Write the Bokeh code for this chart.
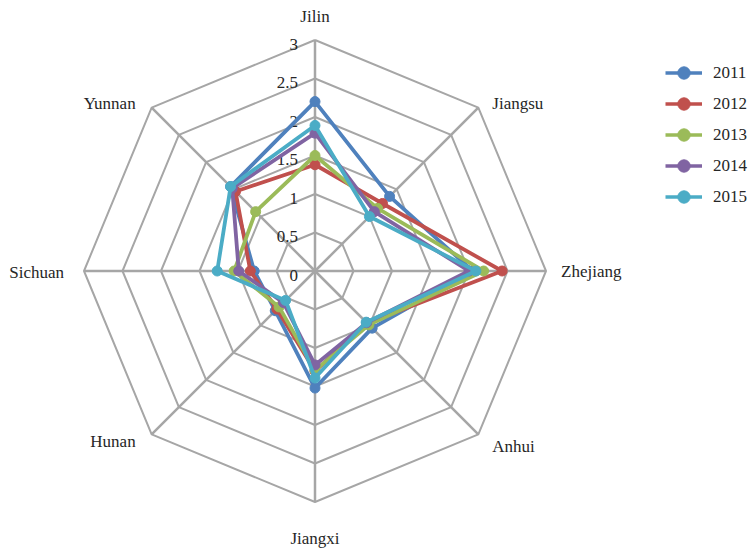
import math
from bokeh.plotting import figure
from bokeh.models import ColumnDataSource, Legend, LegendItem
from bokeh.core.properties import value
from bokeh.embed import file_html
from bokeh.resources import INLINE

categories = ["Jilin", "Jiangsu", "Zhejiang", "Anhui", "Jiangxi", "Hunan", "Sichuan", "Yunnan"]
years = ["2011", "2012", "2013", "2014", "2015"]
v2011 = [2.20, 1.37, 2.05, 1.05, 1.52, 0.73, 0.79, 1.55]
v2012 = [1.38, 1.24, 2.43, 0.96, 1.30, 0.70, 0.84, 1.46]
v2013 = [1.50, 1.15, 2.19, 0.99, 1.29, 0.66, 1.05, 1.09]
v2014 = [1.79, 1.09, 2.00, 0.95, 1.22, 0.58, 0.99, 1.52]
v2015 = [1.89, 1.00, 2.09, 0.94, 1.39, 0.54, 1.27, 1.55]
series = [v2011, v2012, v2013, v2014, v2015]
ring_levels = [0.5, 1.0, 1.5, 2.0, 2.5, 3.0]
tick_labels = ["0", "0.5", "1", "1.5", "2", "2.5", "3"]
tick_values = [0, 0.5, 1.0, 1.5, 2.0, 2.5, 3.0]

colors = ["#4F81BD", "#C0504D", "#9BBB59", "#8064A2", "#4BACC6"]
grid_color = "#A6A6A6"
font = "Liberation Serif"
text_color = "#262626"

W, H = 750, 549
cx_px, cy_px = 314.5, 270.5
unit = 77.0
n = len(categories)
angles = [math.radians(90 - 45 * i) for i in range(n)]

p = figure(width=W, height=H, output_backend="svg", toolbar_location=None,
           x_range=(-cx_px / unit, (W - cx_px) / unit),
           y_range=(-(H - cy_px) / unit, cy_px / unit),
           min_border=0, outline_line_color=None)
p.axis.visible = False
p.grid.visible = False
p.background_fill_color = "white"
p.border_fill_color = "white"

# rings
for r in ring_levels:
    xs = [r * math.cos(a) for a in angles] + [r * math.cos(angles[0])]
    ys = [r * math.sin(a) for a in angles] + [r * math.sin(angles[0])]
    p.line(xs, ys, line_color=grid_color, line_width=2)

# spokes
rmax = max(ring_levels)
for a in angles:
    p.line([0, rmax * math.cos(a)], [0, rmax * math.sin(a)], line_color=grid_color, line_width=2.5)

# tick labels
p.text(x=[0] * len(tick_values), y=tick_values, text=tick_labels,
       text_font=value(font), text_font_size="17px", text_color=text_color,
       text_align="right", text_baseline="middle", x_offset=-17, y_offset=4)

# category labels
lab_x, lab_y, aligns, xo, yo = [], [], [], [], []
for a in angles:
    c, s = math.cos(a), math.sin(a)
    lab_x.append(rmax * c)
    lab_y.append(rmax * s)
    if abs(c) < 1e-6:
        aligns.append("center")
        xo.append(0)
        yo.append(-24 if s > 0 else 36)
    elif c > 0:
        aligns.append("left")
        xo.append(14 if abs(s) > 1e-6 else 15)
        yo.append(-4 if s > 0.1 else (12 if s < -0.1 else 0))
    else:
        aligns.append("right")
        xo.append(-16 if abs(s) > 1e-6 else -20)
        yo.append(-4 if s > 0.1 else (7 if s < -0.1 else 1))
p.text(x=lab_x, y=lab_y, text=categories, text_align=aligns, x_offset=xo, y_offset=yo,
       text_font=value(font), text_font_size="17px", text_color=text_color,
       text_baseline="middle")

# series
items = []
nan = float("nan")
for yr, vals, col in zip(years, series, colors):
    xs = [v * math.cos(a) for v, a in zip(vals, angles)]
    ys = [v * math.sin(a) for v, a in zip(vals, angles)]
    p.line(xs + xs[:1], ys + ys[:1], line_color=col, line_width=3.8, line_join="round")
    p.scatter(xs, ys, size=10, fill_color=col, line_color=col)
    dummy = ColumnDataSource(data=dict(x=[nan], y=[nan]))
    lr = p.line("x", "y", source=dummy, line_color=col, line_width=3.5)
    sr = p.scatter("x", "y", source=dummy, size=15, fill_color=col, line_color=col)
    items.append(LegendItem(label=yr, renderers=[lr, sr]))

legend = Legend(items=items, location=(665, 337), orientation="vertical",
                label_text_font=font, label_text_font_size="17px", label_text_color=text_color,
                glyph_width=37, glyph_height=31, label_height=20, label_standoff=11,
                spacing=0, padding=0, margin=0, border_line_color=None,
                background_fill_alpha=0)
p.add_layout(legend, "center")

open("out.html", "w").write(file_html(p, INLINE))
